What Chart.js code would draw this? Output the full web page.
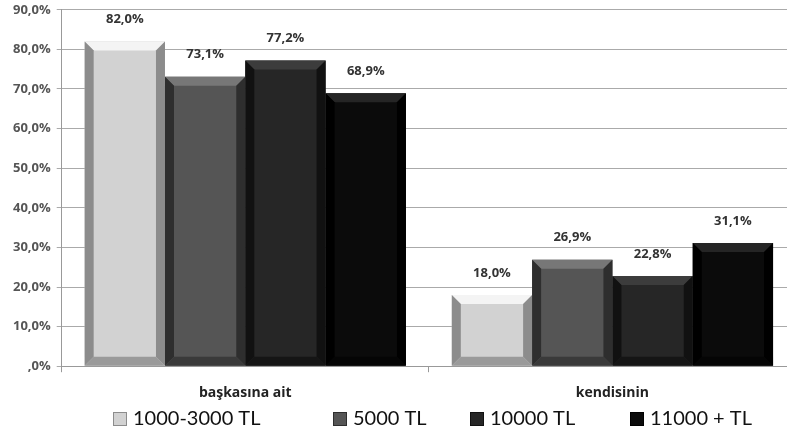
<!DOCTYPE html>
<html><head><meta charset="utf-8">
<script src="https://cdn.jsdelivr.net/npm/chart.js@4/dist/chart.umd.min.js"></script>
<style>html,body{margin:0;padding:0;background:#fff;overflow:hidden}#wrap{width:796px;height:437px;position:relative;overflow:hidden}#c{position:absolute;left:0;top:-4px}</style>
</head><body><div id="wrap"><canvas id="c" width="796" height="441"></canvas></div>
<script>
const categories = ['başkasına ait', 'kendisinin'];
const seriesNames = ['1000-3000 TL', '5000 TL', '10000 TL', '11000 + TL'];
const s1000_3000 = [82.0, 18.0];
const s5000 = [73.1, 26.9];
const s10000 = [77.2, 22.8];
const s11000 = [68.9, 31.1];
const yTickLabels = [',0%', '10,0%', '20,0%', '30,0%', '40,0%', '50,0%', '60,0%', '70,0%', '80,0%', '90,0%'];

const fills = ['#d2d2d2', '#555555', '#262626', '#0b0b0b'];
const tops = ['#f4f4f4', '#777777', '#3c3c3c', '#252525'];
const sides = ['#8c8c8c', '#2e2e2e', '#111111', '#000000'];
const bottoms = ['#9a9a9a', '#3a3a3a', '#151515', '#050505'];

const bevel = {
  id: 'bevel',
  afterDatasetsDraw(chart) {
    const ctx = chart.ctx;
    chart.data.datasets.forEach((ds, di) => {
      chart.getDatasetMeta(di).data.forEach((bar) => {
        const l = bar.x - bar.width / 2, r = bar.x + bar.width / 2, t = bar.y, b = bar.base;
        const e = 9;
        ctx.save();
        ctx.fillStyle = tops[di];
        ctx.beginPath(); ctx.moveTo(l, t); ctx.lineTo(r, t); ctx.lineTo(r - e, t + e); ctx.lineTo(l + e, t + e); ctx.closePath(); ctx.fill();
        ctx.fillStyle = sides[di];
        ctx.beginPath(); ctx.moveTo(l, t); ctx.lineTo(l + e, t + e); ctx.lineTo(l + e, b - e); ctx.lineTo(l, b); ctx.closePath(); ctx.fill();
        ctx.beginPath(); ctx.moveTo(r, t); ctx.lineTo(r - e, t + e); ctx.lineTo(r - e, b - e); ctx.lineTo(r, b); ctx.closePath(); ctx.fill();
        ctx.fillStyle = bottoms[di];
        ctx.beginPath(); ctx.moveTo(l, b); ctx.lineTo(l + e, b - e); ctx.lineTo(r - e, b - e); ctx.lineTo(r, b); ctx.closePath(); ctx.fill();
        ctx.restore();
      });
    });
    ctx.save();
    ctx.font = 'bold 13px "Open Sans", sans-serif';
    ctx.fillStyle = '#333';
    ctx.textAlign = 'center';
    ctx.textBaseline = 'middle';
    chart.data.datasets.forEach((ds, di) => {
      chart.getDatasetMeta(di).data.forEach((bar, i) => {
        ctx.fillText(ds.data[i].toFixed(1).replace('.', ',') + '%', bar.x, bar.y - 22);
      });
    });
    ctx.restore();
  }
};

const legendSlots = [113, 333, 470, 630];
const customLegend = {
  id: 'customLegend',
  afterDraw(chart) {
    const ctx = chart.ctx;
    ctx.save();
    ctx.font = '20px Lato, sans-serif';
    ctx.textBaseline = 'middle';
    const box = 14, gapText = 6, y = 423;
    seriesNames.forEach((n, i) => {
      const x = legendSlots[i];
      ctx.fillStyle = fills[i];
      ctx.fillRect(x, y - box / 2, box, box);
      ctx.strokeStyle = sides[i];
      ctx.lineWidth = 1;
      ctx.strokeRect(x + 0.5, y - box / 2 + 0.5, box - 1, box - 1);
      ctx.fillStyle = '#111';
      ctx.fillText(n, x + box + gapText, y);
    });
    ctx.restore();
  }
};

const seriesData = [s1000_3000, s5000, s10000, s11000];
new Chart(document.getElementById('c'), {
  type: 'bar',
  data: {
    labels: categories,
    datasets: seriesNames.map((n, i) => ({
      label: n, data: seriesData[i], backgroundColor: fills[i], borderWidth: 0,
      categoryPercentage: 0.875, barPercentage: 1.0
    }))
  },
  options: {
    responsive: false, animation: false,
    layout: { padding: { top: 0, left: 7, right: 0, bottom: 24 } },
    plugins: {
      tooltip: { enabled: false },
      legend: { display: false }
    },
    scales: {
      x: {
        grid: { display: true, drawOnChartArea: false, color: '#999', tickLength: 6 },
        border: { color: '#999' },
        ticks: { font: { size: 14, weight: 'bold', family: '"Open Sans", sans-serif' }, color: '#222', padding: 12 }
      },
      y: {
        min: 0, max: 90,
        ticks: { stepSize: 10, font: { size: 13, weight: 'bold', family: '"Open Sans", sans-serif' }, color: '#555', padding: 6,
          callback: (v, i) => yTickLabels[i] },
        grid: { color: '#aaa', tickLength: 5 },
        border: { color: '#999' }
      }
    }
  },
  plugins: [bevel, customLegend]
});
</script></body></html>
